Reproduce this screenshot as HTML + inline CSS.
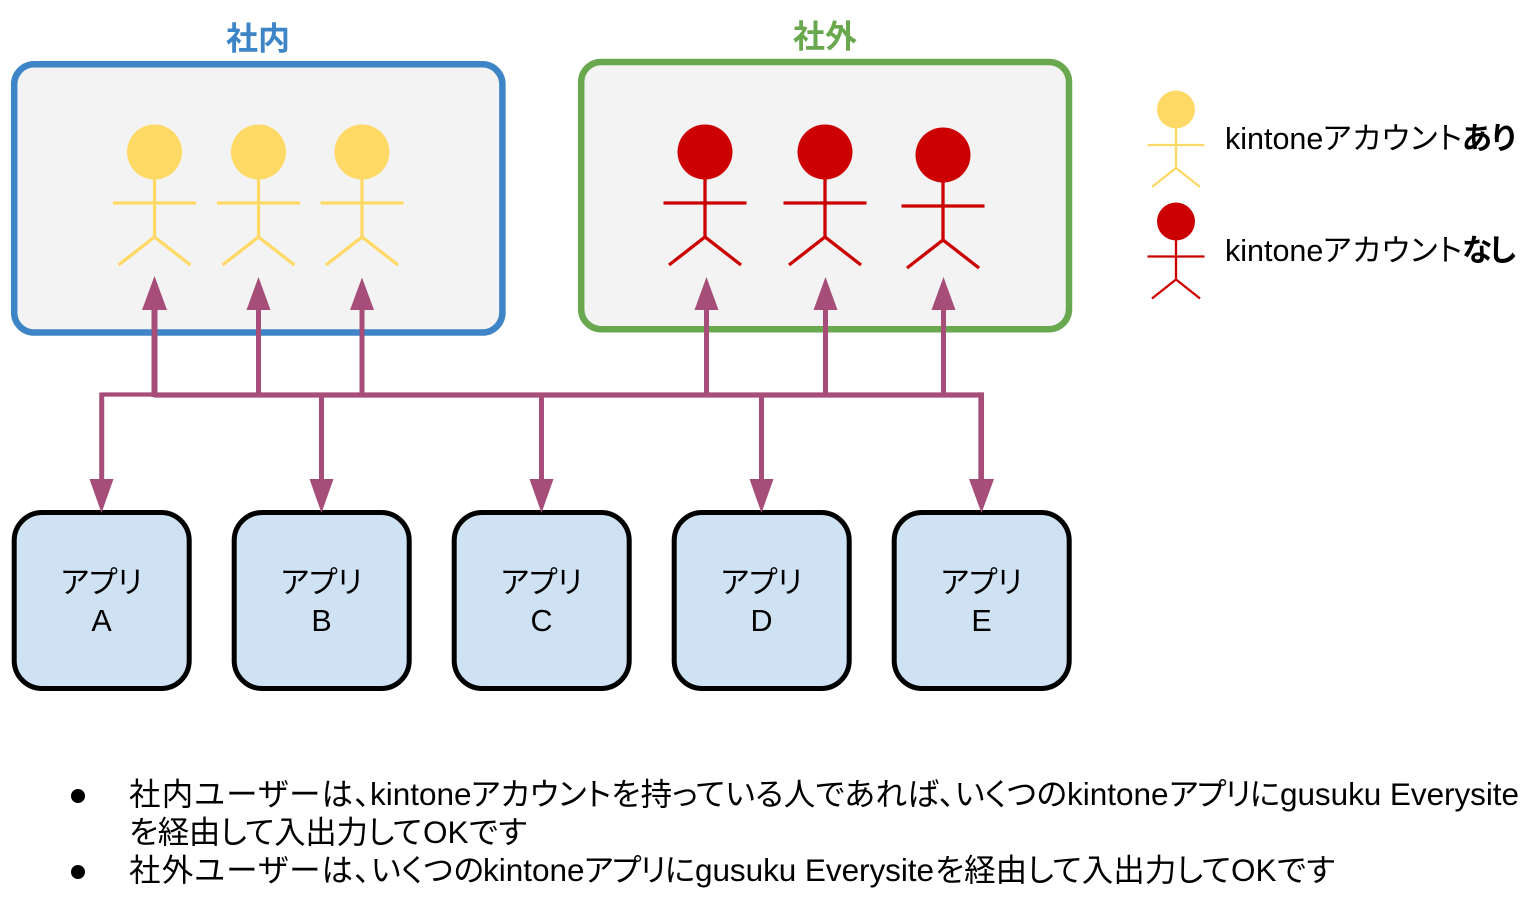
<!DOCTYPE html>
<html><head><meta charset="utf-8"><style>
html,body{margin:0;padding:0;background:#fff}
svg{display:block}
text{font-family:"Liberation Sans","Noto Sans CJK JP",sans-serif;fill:#000;font-feature-settings:"palt" 1}
</style></head><body>
<svg width="1534" height="901" viewBox="0 0 1534 901" xmlns="http://www.w3.org/2000/svg">
<defs>
<g id="y" fill="none" stroke="#ffd966" stroke-width="3.300"><circle cx="0" cy="0" r="27.500" fill="#ffd966" stroke="none"/><path d="M0 27V85M-41.500 51H41.500M-36 113L0 85L36 113"/></g>
<g id="r" fill="none" stroke="#cc0000" stroke-width="3.300"><circle cx="0" cy="0" r="27.500" fill="#cc0000" stroke="none"/><path d="M0 27V85M-41.500 51H41.500M-36 113L0 85L36 113"/></g>
</defs>
<rect x="14.200" y="64.300" width="488.200" height="268.200" rx="20" fill="#f3f3f3" stroke="#3d85c6" stroke-width="6.500"/>
<rect x="581.200" y="62" width="487.800" height="267.200" rx="20" fill="#f3f3f3" stroke="#6aa84f" stroke-width="6.500"/>
<text x="258" y="49.500" text-anchor="middle" font-size="32" font-weight="700" style="fill:#3d85c6;font-feature-settings:normal">社内</text>
<text x="825" y="47.500" text-anchor="middle" font-size="32" font-weight="700" style="fill:#6aa84f;font-feature-settings:normal">社外</text>
<use href="#y" x="154.500" y="152"/><use href="#y" x="258.500" y="152"/><use href="#y" x="362" y="152"/>
<use href="#r" x="705" y="152"/><use href="#r" x="825" y="152"/><use href="#r" x="943" y="155"/>
<g fill="none" stroke="#a64d79" stroke-linejoin="miter">
<path d="M101.700 394.500H154" stroke-width="4.300"/>
<path d="M154 395H981" stroke-width="5.300"/>
<path d="M101.700 392.500V482M321.500 395V482M541.500 395V482M761.500 395V482" stroke-width="5"/>
<path d="M981.200 392.400V482" stroke-width="5.700"/>
<path d="M154.500 397V308" stroke-width="6"/>
<path d="M258.500 395V308M362 395V308M706.500 395V308M825.500 395V308M943.500 395V308" stroke-width="5"/>
</g>
<g fill="#a64d79">
<path d="M154.500 276L167 310H142Z"/><path d="M258.500 277L270.500 310H246.500Z"/><path d="M362 277.500L374 310H350Z"/>
<path d="M706.500 277L718.500 310H694.500Z"/><path d="M825.500 277L837.500 310H813.500Z"/><path d="M943.500 277L955.500 310H931.500Z"/>
</g>
<g fill="#cfe2f3" stroke="#000" stroke-width="5">
<rect x="14.200" y="512.500" width="175" height="176" rx="28"/>
<rect x="234.200" y="512.500" width="175" height="176" rx="28"/>
<rect x="454.200" y="512.500" width="175" height="176" rx="28"/>
<rect x="674.200" y="512.500" width="175" height="176" rx="28"/>
<rect x="894.200" y="512.500" width="175" height="176" rx="28"/>
</g>
<g fill="#a64d79">
<path d="M101.500 513L89.500 479H113.500Z"/><path d="M321.500 513L309.500 479H333.500Z"/><path d="M541.500 513L529.500 479H553.500Z"/><path d="M761.500 513L749.500 479H773.500Z"/><path d="M981.500 513L969 479H994Z"/>
</g>
<g font-size="30.500" text-anchor="middle">
<text x="101.500" y="593">アプリ</text><text x="101.500" y="631">A</text>
<text x="321.500" y="593">アプリ</text><text x="321.500" y="631">B</text>
<text x="541.500" y="593">アプリ</text><text x="541.500" y="631">C</text>
<text x="761.500" y="593">アプリ</text><text x="761.500" y="631">D</text>
<text x="981.500" y="593">アプリ</text><text x="981.500" y="631">E</text>
</g>
<g fill="none" stroke-width="2.300">
<circle cx="1176" cy="109.500" r="19" fill="#ffd966"/>
<path d="M1176 128V168M1147.500 145H1204.500M1152 187L1176 168L1200 187" stroke="#ffd966"/>
<circle cx="1176" cy="221.500" r="19" fill="#cc0000"/>
<path d="M1176 240V279.500M1147.500 256.500H1204.500M1152 298.500L1176 279.500L1200 298.500" stroke="#cc0000"/>
</g>
<g font-size="30.500">
<text x="1225" y="149">kintone</text><text x="1323" y="149" textLength="139">アカウント</text><text x="1462" y="149" textLength="54" font-weight="700">あり</text>
<text x="1225" y="261">kintone</text><text x="1323" y="261" textLength="139">アカウント</text><text x="1462" y="261" textLength="54" font-weight="700">なし</text>
</g>
<circle cx="78" cy="796" r="7"/>
<circle cx="78" cy="872" r="7"/>
<g font-size="31.500">
<text x="129" y="805" textLength="241">社内ユーザーは、</text>
<text x="370" y="805">kintone</text>
<text x="471" y="805" textLength="596">アカウントを持っている人であれば、いくつの</text>
<text x="1067" y="805">kintone</text>
<text x="1169" y="805" textLength="111">アプリに</text>
<text x="1280" y="805" textLength="239">gusuku Everysite</text>
<text x="129" y="843" textLength="293">を経由して入出力して</text>
<text x="423" y="843">OK</text>
<text x="469" y="843" textLength="58">です</text>
<text x="129" y="881" textLength="241">社外ユーザーは、</text>
<text x="371" y="881" textLength="113">いくつの</text>
<text x="483" y="881">kintone</text>
<text x="584" y="881" textLength="111">アプリに</text>
<text x="695" y="881" textLength="239">gusuku Everysite</text>
<text x="935" y="881" textLength="296">を経由して入出力して</text>
<text x="1231" y="881">OK</text>
<text x="1277" y="881" textLength="58">です</text>
</g>
</svg>
</body></html>
